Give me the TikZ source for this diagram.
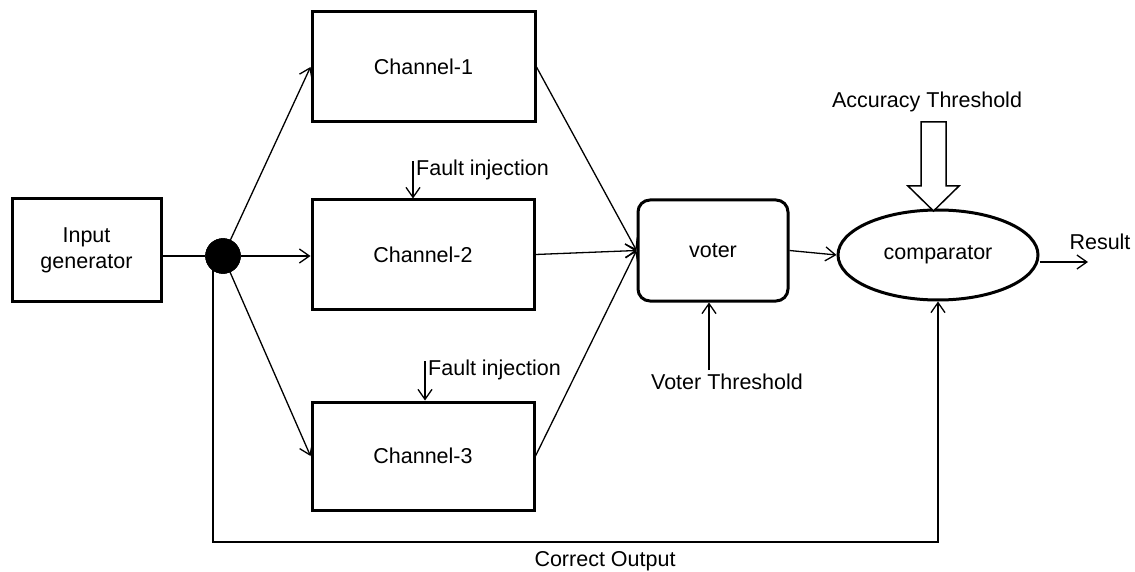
\documentclass[tikz,border=0pt]{standalone}
\usepackage{fontspec}
\setmainfont{Liberation Sans}
\usetikzlibrary{arrows.meta,shapes.geometric}
\begin{document}
\begin{tikzpicture}[x=1pt,y=-1pt,
  every node/.style={font=\fontsize{21.5}{26}\selectfont},
  box/.style={draw, line width=3pt, rectangle, inner sep=0pt, align=center},
  conn/.style={line width=1.3pt, -{Straight Barb[length=10pt,width=14pt,line width=1.3pt]}},
  plain/.style={line width=1.3pt},
  lbl/.style={inner sep=0pt}
]
\useasboundingbox (0,0) rectangle (1135,572);
% blocks
\node[box, minimum width=149pt, minimum height=102pt] (ig) at (86.5,250) {Input\\generator};
\node[circle, fill=black, draw=black, minimum size=35pt, inner sep=0pt] (dot) at (223,256) {};
\node[box, minimum width=223pt, minimum height=110pt] (ch1) at (423.5,67) {Channel-1};
\node[box, minimum width=222pt, minimum height=109pt] (ch2) at (423,254.5) {Channel-2};
\node[box, minimum width=222pt, minimum height=108pt] (ch3) at (423,456) {Channel-3};
\node[box, rounded corners=12pt, minimum width=150pt, minimum height=101pt] (voter) at (713,250.5) {voter};
\node[draw, ellipse, line width=3pt, minimum width=200pt, minimum height=90pt, inner sep=0pt] (comp) at (938,255) {comparator};
% labels
\node[lbl] (acc) at (927,102) {Accuracy Threshold};
\node[lbl] (res) at (1100,242) {Result};
\node[lbl] (vt) at (727,382) {Voter Threshold};
\node[lbl, anchor=west] (fi1) at (416,170) {Fault injection};
\node[lbl, anchor=west] (fi2) at (428,370) {Fault injection};
\node[lbl] (co) at (605,561) {Correct Output};
% helper coordinates
\coordinate (resend) at (1088,262);
\coordinate (vtx) at (709,370);
\coordinate (fa1) at (413,161);
\coordinate (fa2) at (425,361);
\coordinate (cob) at (213,542);
\coordinate (acctip) at (933.5,211);
% connectors
\draw[plain] (ig.east |- dot) -- (dot);
\draw[conn] (dot) -- (ch1.west);
\draw[conn] (dot) -- (dot -| ch2.west);
\draw[conn] (dot) -- (ch3.west);
\draw[conn] (ch1.east) -- (voter.west);
\draw[conn] (ch2.east) -- (voter.west);
\draw[conn] (ch3.east) -- (voter.west);
\draw[conn] (voter.east) -- (comp.west);
\draw[conn] (comp.east |- resend) -- (resend);
\draw[conn] (vtx) -- (vtx |- voter.south);
\draw[conn] (fa1) -- (fa1 |- ch2.north);
\draw[conn] (fa2) -- (fa2 |- ch3.north);
\draw[conn] (dot.center -| cob) -- (cob) -| (comp.south);
\node[circle, fill=black, draw=black, minimum size=35pt, inner sep=0pt] at (dot) {};
% hollow threshold arrow
\draw[line width=1.5pt, fill=white] (921,122) -- (946,122) -- (946,186) -- (959,186) -- (acctip) -- (908,186) -- (921,186) -- cycle;
\end{tikzpicture}
\end{document}
